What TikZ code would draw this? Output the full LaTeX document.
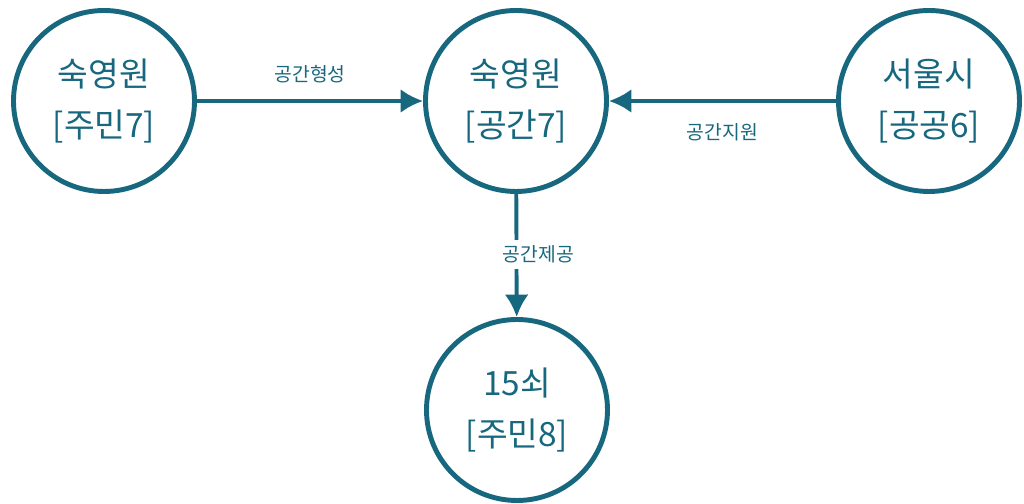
\documentclass[tikz,border=0pt]{standalone}
\usepackage{fontspec}
\setmainfont{Noto Sans CJK KR}
\usepackage{tikz}
\usetikzlibrary{positioning,arrows.meta}

\definecolor{inkteal}{HTML}{17687F}

\begin{document}
\begin{tikzpicture}[
						% Define a style for all nodes (optional, but helpful)
						actor style/.style={circle, draw=inkteal, line width=2.8pt, minimum size=3.62cm, align=center, text=inkteal, font=\fontsize{19}{29}\selectfont},
						link style/.style={draw=inkteal, line width=2.2pt, -{Latex[length=4.5mm,width=4.8mm]}},
						link label/.style={text=inkteal, font=\fontsize{11}{13}\selectfont}
						]
						
						\useasboundingbox (0,0) rectangle (20.48,10.08);
						
						% Define and place your nodes
						\node[actor style] (resident) at (2.08, 8.06) {숙영원\\{[주민7]}};
						\node[actor style] (space) at (10.32, 8.06) {숙영원\\{[공간7]}};
						\node[actor style] (city) at (18.58, 8.06) {서울시\\{[공공6]}};
						\node[actor style] (user) at (10.34, 1.88) {15쇠\\{[주민8]}};
						
						% --- Draw the edges ---
						\draw[link style] (resident) -- node[link label, above=2mm] {공간형성} (space);
						\draw[link style] (city) -- node[link label, below=3mm] {공간지원} (space);
						\draw[link style] (space) -- node[link label, fill=white, xshift=4.4mm, yshift=0.2mm] {공간제공} (user);
					\end{tikzpicture}
\end{document}
